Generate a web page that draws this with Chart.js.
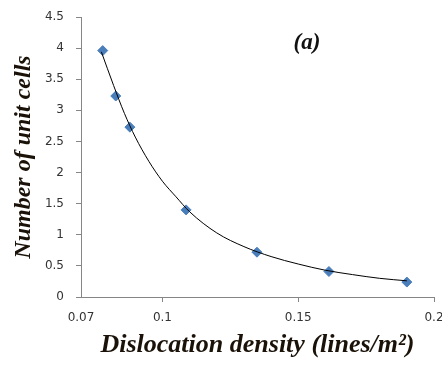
<!DOCTYPE html>
<html lang="en">
<head>
  <meta charset="UTF-8">
  <title>Number of unit cells vs dislocation density</title>
  <script src="https://cdn.jsdelivr.net/npm/chart.js"></script>
  <style>
    body { margin: 0; background: #fff; }
  </style>
  <script>
    // measured points
    const density = [0.078, 0.0828, 0.088, 0.1087, 0.1348, 0.1613, 0.19]
    const unitCells = [3.96, 3.23, 2.73, 1.40, 0.72, 0.41, 0.24]

    // power trendline
    const trendX = [0.0775, 0.082, 0.086, 0.09, 0.095, 0.1, 0.105, 0.11, 0.12, 0.13, 0.14, 0.15, 0.16, 0.17, 0.18, 0.19]
    const trendY = [3.94, 3.40, 2.95, 2.57, 2.18, 1.86, 1.61, 1.37, 1.03, 0.81, 0.65, 0.53, 0.43, 0.36, 0.30, 0.26]

    const xTicks = [0.07, 0.1, 0.15, 0.2]
    const yMin = 0, yMax = 4.5, yStep = 0.5
    const panelLabel = '(a)'

    window.onload = () => {
      const chart = document.getElementById('chart')
      const serif = "'Liberation Serif', 'Times New Roman', serif"
      const axisColor = '#868686'

      const panelPlugin = {
        id: 'panelLabel',
        afterDraw(c) {
          const ctx = c.ctx
          ctx.save()
          ctx.font = 'italic bold 23px ' + serif
          ctx.fillStyle = '#111'
          ctx.textAlign = 'center'
          ctx.textBaseline = 'middle'
          ctx.fillText(panelLabel, 307, 43)
          ctx.restore()
        }
      }

      new Chart(chart, {
        type: 'scatter',
        data: {
          datasets: [{
            label: 'data',
            data: density.map((x, i) => ({ x: x, y: unitCells[i] })),
            pointStyle: 'rectRot',
            pointRadius: 5,
            backgroundColor: '#4a7ebb',
            borderColor: '#4a7ebb',
            borderWidth: 1,
            order: 2
          }, {
            label: 'trend',
            data: trendX.map((x, i) => ({ x: x, y: trendY[i] })),
            showLine: true,
            pointRadius: 0,
            borderColor: '#000',
            borderWidth: 1,
            cubicInterpolationMode: 'monotone',
            order: 1
          }]
        },
        options: {
          responsive: false,
          animation: false,
          layout: { padding: { left: 0, top: 17, right: 8, bottom: 0 } },
          plugins: {
            legend: { display: false },
            tooltip: { enabled: false }
          },
          scales: {
            x: {
              type: 'linear',
              min: 0.07,
              max: 0.2,
              afterBuildTicks: s => { s.ticks = xTicks.map(v => ({ value: v })) },
              afterFit: s => { s.height = 75; s.paddingLeft = 0; s.paddingRight = 0 },
              grid: {
                drawOnChartArea: false,
                tickLength: 5,
                tickColor: c => c.tick && c.tick.value === 0.07 ? 'rgba(0,0,0,0)' : axisColor
              },
              border: { color: axisColor, width: 1 },
              ticks: {
                padding: 9,
                maxRotation: 0,
                color: '#333',
                font: { family: "'DejaVu Sans', Verdana, sans-serif", size: 12 },
                callback: v => String(v)
              },
              title: {
                display: true,
                text: 'Dislocation density (lines/m²)',
                color: '#1a1208',
                font: { family: serif, size: 26, style: 'italic', weight: 'bold' },
                padding: { top: 0, bottom: 11 }
              }
            },
            y: {
              min: yMin,
              max: yMax,
              afterFit: s => { s.width = 81; s.paddingTop = 0; s.paddingBottom = 0 },
              grid: { drawOnChartArea: false, tickLength: 5, tickColor: axisColor },
              border: { color: axisColor, width: 1 },
              ticks: {
                stepSize: yStep,
                padding: 12,
                color: '#333',
                font: { family: "'DejaVu Sans', Verdana, sans-serif", size: 12 },
                callback: v => String(v)
              },
              title: {
                display: true,
                text: 'Number of unit cells',
                color: '#1a1208',
                font: { family: serif, size: 24, style: 'italic', weight: 'bold' },
                padding: { top: 9, bottom: 0 }
              }
            }
          }
        },
        plugins: [panelPlugin]
      })
    }
  </script>
</head>
<body>
  <canvas id="chart" width="442" height="372"></canvas>
</body>
</html>
